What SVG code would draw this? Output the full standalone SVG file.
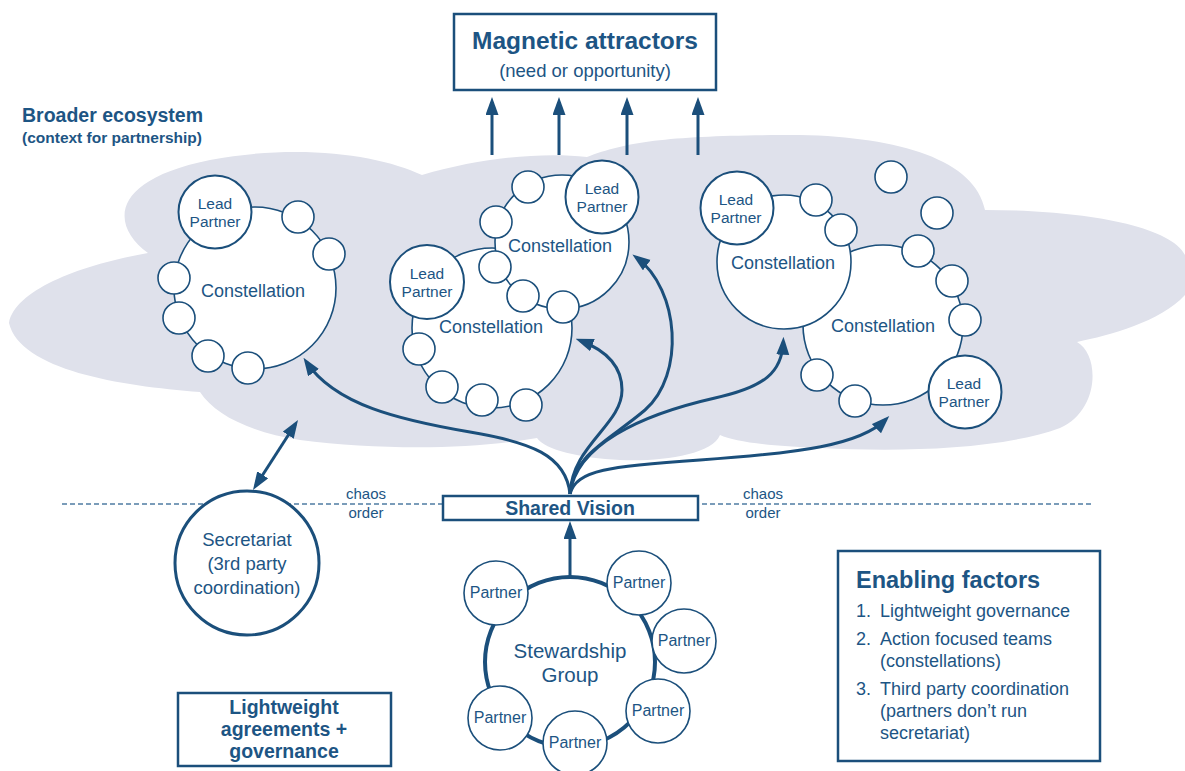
<svg xmlns="http://www.w3.org/2000/svg" width="1185" height="771" viewBox="0 0 1185 771">
<defs>
<style>
text{font-family:"Liberation Sans",Arial,sans-serif;fill:#1d5584}
.b{font-weight:bold}
.c{text-anchor:middle}
.big{fill:#fff;stroke:#1b4f7b;stroke-width:1.6}
.sm{fill:#fff;stroke:#1b4f7b;stroke-width:1.6}
.lp{fill:#fff;stroke:#1b4f7b;stroke-width:2}
.box{fill:#fff;stroke:#1b4f7b;stroke-width:2.5}
.con{fill:none;stroke:#1b4f7b;stroke-width:3}
.cl{font-size:18px}
.lpt{font-size:15.5px}
.pt{font-size:16px}
.ef{font-size:18px}
</style>
<marker id="ah" markerUnits="userSpaceOnUse" markerWidth="18" markerHeight="14" refX="13" refY="6.5" orient="auto-start-reverse">
<path d="M0,0 L18,6.5 L0,13 Z" fill="#1b4f7b"/>
</marker>
</defs>
<rect width="1185" height="771" fill="#fff"/>

<g id="ecosystem">
<path d="M9,323 C15,290 80,265 148,253 C110,225 110,180 210,160 C300,143 380,155 422,175 C480,158 540,152 587,157 C630,140 680,135 800,135 C900,137 975,160 985,210 C1080,210 1170,225 1185,255 L1185,295 C1160,322 1110,335 1077,342 C1100,355 1100,410 1060,428 C1000,450 900,452 820,448 C770,446 735,442 720,435 C712,455 660,462 620,460 C580,458 545,450 537,438 C470,450 380,450 300,440 C250,432 215,415 200,392 C120,386 20,370 9,323 Z" fill="#dfe1eb"/>
<text x="22" y="122" class="b" font-size="19.5">Broader ecosystem</text>
<text x="22" y="143" class="b" font-size="15.5">(context for partnership)</text>
</g>

<g id="magnetic-attractors">
<rect x="454" y="14" width="262" height="76" class="box"/>
<text x="585" y="49" class="b c" font-size="24.5">Magnetic attractors</text>
<text x="585" y="77" class="c" font-size="18.5">(need or opportunity)</text>
</g>

<g id="connectors">
<path d="M492,155 V102" class="con" marker-end="url(#ah)"/>
<path d="M559,155 V102" class="con" marker-end="url(#ah)"/>
<path d="M627,155 V102" class="con" marker-end="url(#ah)"/>
<path d="M698,155 V102" class="con" marker-end="url(#ah)"/>
<path d="M570,494 C566,455 530,442 470,432 C400,420 335,405 306.3,361.8" class="con" marker-end="url(#ah)"/>
<path d="M570,494 C572,445 622,425 622,390 C622,365 605,350 580.3,340.5" class="con" marker-end="url(#ah)"/>
<path d="M570,494 C572,455 610,440 645,410 C685,375 680,290 636.4,257.4" class="con" marker-end="url(#ah)"/>
<path d="M570,494 C576,445 640,415 715,398 C765,387 782,372 783.3,341.7" class="con" marker-end="url(#ah)"/>
<path d="M570,494 C576,470 610,466 700,460 C800,453 860,445 885.7,419.6" class="con" marker-end="url(#ah)"/>
<path d="M255.7,485.8 L295.3,424.2" class="con" marker-start="url(#ah)" marker-end="url(#ah)"/>
<path d="M570,577 V526" class="con" marker-end="url(#ah)"/>
</g>

<g id="constellation-left">
<circle cx="255" cy="288" r="81" class="big"/>
<circle cx="298" cy="217" r="16" class="sm"/>
<circle cx="329" cy="254" r="16" class="sm"/>
<circle cx="174" cy="278" r="16" class="sm"/>
<circle cx="179" cy="318" r="16" class="sm"/>
<circle cx="208" cy="356" r="16" class="sm"/>
<circle cx="248" cy="368" r="16" class="sm"/>
<circle cx="215" cy="212" r="36.5" class="lp"/>
<text x="215" y="209" class="c lpt">Lead</text>
<text x="215" y="227" class="c lpt">Partner</text>
<text x="253" y="297" class="c cl">Constellation</text>
</g>

<g id="constellation-mid-lower">
<circle cx="492" cy="328" r="80" class="big"/>
<circle cx="419" cy="349" r="16" class="sm"/>
<circle cx="442" cy="387" r="16" class="sm"/>
<circle cx="482" cy="400" r="16" class="sm"/>
<circle cx="526" cy="405" r="16" class="sm"/>
<circle cx="427" cy="282" r="37" class="lp"/>
<text x="427" y="279" class="c lpt">Lead</text>
<text x="427" y="297" class="c lpt">Partner</text>
<text x="491" y="333" class="c cl">Constellation</text>
</g>

<g id="constellation-mid-upper">
<circle cx="562" cy="242" r="67" class="big"/>
<circle cx="528" cy="187" r="16" class="sm"/>
<circle cx="496" cy="222" r="16" class="sm"/>
<circle cx="495" cy="267" r="16" class="sm"/>
<circle cx="523" cy="296" r="16" class="sm"/>
<circle cx="563" cy="307" r="16" class="sm"/>
<circle cx="602" cy="197" r="36.5" class="lp"/>
<text x="602" y="194" class="c lpt">Lead</text>
<text x="602" y="212" class="c lpt">Partner</text>
<text x="560" y="252" class="c cl">Constellation</text>
</g>

<g id="constellation-right-lower">
<circle cx="883" cy="325" r="80" class="big"/>
<circle cx="918" cy="251" r="16" class="sm"/>
<circle cx="952" cy="281" r="16" class="sm"/>
<circle cx="965" cy="320" r="16" class="sm"/>
<circle cx="817" cy="375" r="16" class="sm"/>
<circle cx="855" cy="401" r="16" class="sm"/>
<circle cx="965" cy="392" r="36.5" class="lp"/>
<text x="964" y="389" class="c lpt">Lead</text>
<text x="964" y="407" class="c lpt">Partner</text>
<text x="883" y="332" class="c cl">Constellation</text>
</g>

<g id="constellation-right-upper">
<circle cx="784" cy="262" r="67" class="big"/>
<circle cx="816" cy="200" r="16" class="sm"/>
<circle cx="841" cy="230" r="16" class="sm"/>
<circle cx="737" cy="208" r="36.5" class="lp"/>
<text x="736" y="205" class="c lpt">Lead</text>
<text x="736" y="223" class="c lpt">Partner</text>
<text x="783" y="269" class="c cl">Constellation</text>
</g>

<g id="free-partners">
<circle cx="891" cy="177" r="16" class="sm"/>
<circle cx="937" cy="213" r="16" class="sm"/>
</g>

<g id="chaos-order">
<line x1="62" y1="504" x2="1092" y2="504" stroke="#4f7ca3" stroke-width="1.5" stroke-dasharray="5,3"/>
<text x="366" y="499" class="c" font-size="15">chaos</text>
<text x="366" y="518" class="c" font-size="15">order</text>
<text x="763" y="499" class="c" font-size="15">chaos</text>
<text x="763" y="518" class="c" font-size="15">order</text>
</g>

<g id="shared-vision">
<rect x="443" y="496" width="255" height="24" class="box"/>
<text x="570" y="515" class="b c" font-size="19.5">Shared Vision</text>
</g>

<g id="secretariat">
<circle cx="247" cy="563" r="72" fill="#fff" stroke="#1b4f7b" stroke-width="3"/>
<text x="247" y="546" class="c" font-size="18.5">Secretariat</text>
<text x="247" y="570" class="c" font-size="18.5">(3rd party</text>
<text x="247" y="594" class="c" font-size="18.5">coordination)</text>
</g>

<g id="stewardship-group">
<circle cx="570" cy="662" r="85" fill="#fff" stroke="#1b4f7b" stroke-width="4"/>
<text x="570" y="658" class="c" font-size="20.5">Stewardship</text>
<text x="570" y="682" class="c" font-size="20.5">Group</text>
<circle cx="496" cy="593" r="32" class="sm"/>
<text x="496" y="598" class="c pt">Partner</text>
<circle cx="639" cy="583" r="32" class="sm"/>
<text x="639" y="588" class="c pt">Partner</text>
<circle cx="684" cy="641" r="32" class="sm"/>
<text x="684" y="646" class="c pt">Partner</text>
<circle cx="658" cy="711" r="32" class="sm"/>
<text x="658" y="716" class="c pt">Partner</text>
<circle cx="575" cy="743" r="32" class="sm"/>
<text x="575" y="748" class="c pt">Partner</text>
<circle cx="500" cy="718" r="32" class="sm"/>
<text x="500" y="723" class="c pt">Partner</text>
</g>

<g id="lightweight-agreements">
<rect x="178" y="693" width="213" height="73" class="box"/>
<text x="284" y="714" class="b c" font-size="19.5">Lightweight</text>
<text x="284" y="736" class="b c" font-size="19.5">agreements +</text>
<text x="284" y="758" class="b c" font-size="19.5">governance</text>
</g>

<g id="enabling-factors">
<rect x="838" y="551" width="262" height="210" class="box"/>
<text x="856" y="588" class="b" font-size="23.5">Enabling factors</text>
<text x="856" y="617" class="ef">1.</text>
<text x="880" y="617" class="ef">Lightweight governance</text>
<text x="856" y="645" class="ef">2.</text>
<text x="880" y="645" class="ef">Action focused teams</text>
<text x="880" y="667" class="ef">(constellations)</text>
<text x="856" y="695" class="ef">3.</text>
<text x="880" y="695" class="ef">Third party coordination</text>
<text x="880" y="717" class="ef">(partners don’t run</text>
<text x="880" y="739" class="ef">secretariat)</text>
</g>
</svg>
